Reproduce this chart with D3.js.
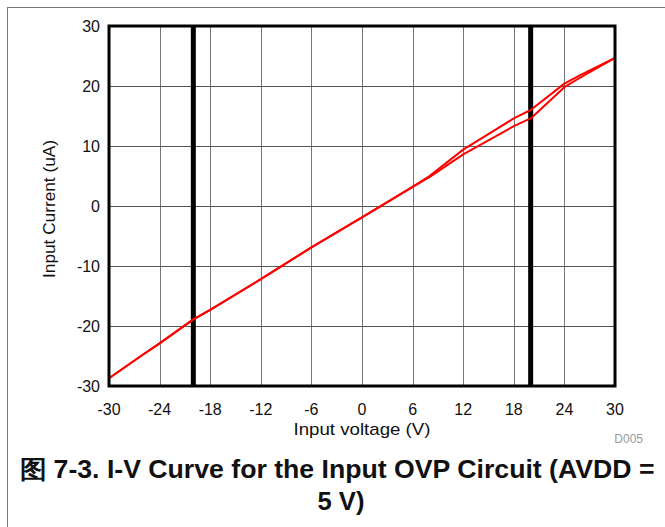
<!DOCTYPE html>
<html><head><meta charset="utf-8">
<script src="https://cdn.jsdelivr.net/npm/d3@7/dist/d3.min.js"></script>
<style>body{margin:0;background:#fff;}svg{display:block;font-family:"Liberation Sans",Arial,sans-serif;}</style>
</head><body><svg id="c" width="665" height="527"></svg>
<script>
const voltage = [-30, -26, -24, -22, -20, -18, -12, -6, 0, 6, 8, 12, 18, 20, 24, 26, 30];
const currentUp = [-28.7, -24.8, -22.9, -20.9, -18.9, -17.3, -12.2, -6.9, -1.9, 3.2, 5.0, 9.4, 14.6, 16.0, 20.4, 21.9, 24.7];
const currentDown = [-28.7, -24.8, -22.9, -20.9, -18.9, -17.3, -12.2, -6.9, -1.9, 3.2, 4.8, 8.6, 13.3, 14.6, 19.8, 21.5, 24.7];
const xTicks = [-30, -24, -18, -12, -6, 0, 6, 12, 18, 24, 30];
const yTicks = [-30, -20, -10, 0, 10, 20, 30];
const limitLines = [-20, 20];

const svg = d3.select("#c");
const L = 109, R = 615, T = 26, B = 386;
const x = d3.scaleLinear().domain([-30, 30]).range([L, R]);
const y = d3.scaleLinear().domain([-30, 30]).range([B, T]);

svg.append("rect").attr("x", 7.5).attr("y", 7.5).attr("width", 700).attr("height", 700)
  .attr("fill", "none").attr("stroke", "#777").attr("stroke-width", 1);

// grid
svg.append("g").selectAll("line").data(xTicks.slice(1, -1)).join("line")
  .attr("x1", d => Math.round(x(d)) + 0.5).attr("x2", d => Math.round(x(d)) + 0.5)
  .attr("y1", T).attr("y2", B).attr("stroke", "#777").attr("stroke-width", 1);
svg.append("g").selectAll("line").data(yTicks.slice(1, -1)).join("line")
  .attr("x1", L).attr("x2", R)
  .attr("y1", d => Math.round(y(d)) + 0.5).attr("y2", d => Math.round(y(d)) + 0.5)
  .attr("stroke", "#555").attr("stroke-width", 1);

// limit lines
svg.append("g").selectAll("line").data(limitLines).join("line")
  .attr("x1", d => x(d)).attr("x2", d => x(d)).attr("y1", T).attr("y2", B)
  .attr("stroke", "#000").attr("stroke-width", 5);

// curves
const line = d3.line().x((d, i) => x(voltage[i])).y(d => y(d));
[currentUp, currentDown].forEach(s => {
  svg.append("path").datum(s).attr("d", line).attr("fill", "none")
    .attr("stroke", "#ff0000").attr("stroke-width", 2).attr("stroke-linejoin", "round");
});

// frame
svg.append("rect").attr("x", L).attr("y", T).attr("width", R - L).attr("height", B - T)
  .attr("fill", "none").attr("stroke", "#000").attr("stroke-width", 3);

// axes labels
svg.append("g").selectAll("text").data(xTicks).join("text")
  .attr("x", d => x(d)).attr("y", 415).attr("text-anchor", "middle")
  .attr("font-size", 16).attr("fill", "#111").text(d => d);
svg.append("g").selectAll("text").data(yTicks).join("text")
  .attr("x", 100).attr("y", d => y(d)).attr("dy", "0.35em").attr("text-anchor", "end")
  .attr("font-size", 16).attr("fill", "#111").text(d => d);

svg.append("text").attr("x", x(0)).attr("y", 435).attr("text-anchor", "middle")
  .attr("font-size", 17).attr("fill", "#111")
  .attr("textLength", 137).attr("lengthAdjust", "spacingAndGlyphs").text("Input voltage (V)");
svg.append("text").attr("transform", `translate(55,${(T + B) / 2 + 3}) rotate(-90)`)
  .attr("text-anchor", "middle").attr("font-size", 17).attr("fill", "#111")
  .attr("textLength", 138).attr("lengthAdjust", "spacingAndGlyphs").text("Input Current (uA)");
svg.append("text").attr("x", 643).attr("y", 443).attr("text-anchor", "end")
  .attr("font-size", 12).attr("fill", "#999").text("D005");

svg.append("text").attr("x", 337).attr("y", 478).attr("text-anchor", "middle")
  .attr("font-size", 25).attr("font-weight", "bold").attr("fill", "#111")
  .attr("textLength", 635).attr("lengthAdjust", "spacingAndGlyphs")
  .text("图 7-3. I-V Curve for the Input OVP Circuit (AVDD =");
svg.append("text").attr("x", 341).attr("y", 510).attr("text-anchor", "middle")
  .attr("font-size", 25).attr("font-weight", "bold").attr("fill", "#111")
  .attr("textLength", 47).attr("lengthAdjust", "spacingAndGlyphs")
  .text("5 V)");
</script></body></html>
